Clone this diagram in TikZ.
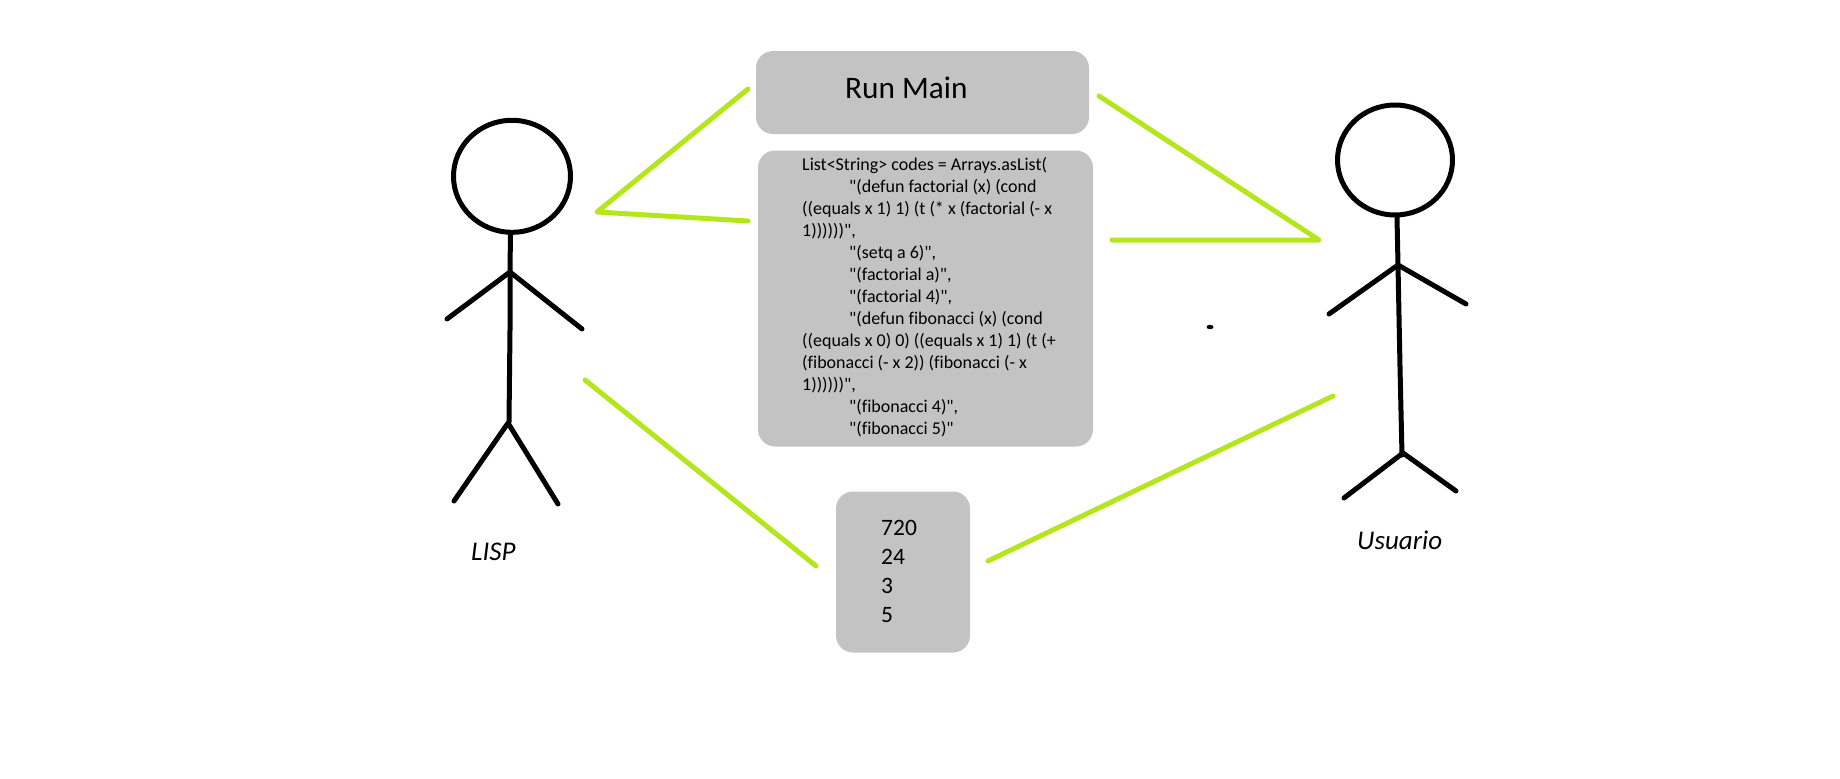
\documentclass[tikz,border=0pt]{standalone}
\usepackage{fontspec}
\setmainfont{Carlito}[Ligatures={TeXOff,CommonOff}]
\usepackage{tikz}
\definecolor{panelgray}{HTML}{C3C3C3}
\definecolor{linkgreen}{HTML}{B5E61D}
\tikzset{
	panel/.style={fill=panelgray, rounded corners=17pt, inner sep=0pt},
	label/.style={inner sep=0pt, anchor=base west},
	link/.style={color=linkgreen, line width=5pt, line cap=round, line join=round},
	figure/.style={color=black, line width=5pt, line cap=round, line join=round}
}

\begin{document}
\begin{tikzpicture}[x=1pt,y=-1pt]
	\useasboundingbox (0,0) rectangle (1840,779);
	% boxes
	\node[panel, minimum width=333pt, minimum height=83pt] (runbox) at (922.5,92.5) {};
	\node[panel, minimum width=335pt, minimum height=296pt] (codebox) at (925.5,298.5) {};
	\node[panel, minimum width=134pt, minimum height=161pt] (resultbox) at (903,572) {};
	% texts
	\node[label, font=\fontsize{31.3pt}{36pt}\selectfont] (runtext) at (845,98) {Run Main};
	\node[inner sep=0pt, anchor=north west, align=left, font=\fontsize{18pt}{22pt}\selectfont] (codetext) at (802,157.5) {List<String> codes = Arrays.asList(\\
		\hspace*{47pt}"(defun factorial (x) (cond\\
		((equals x 1) 1) (t (* x (factorial (- x\\
		1))))))",\\
		\hspace*{47pt}"(setq a 6)",\\
		\hspace*{47pt}"(factorial a)",\\
		\hspace*{47pt}"(factorial 4)",\\
		\hspace*{47pt}"(defun fibonacci (x) (cond\\
		((equals x 0) 0) ((equals x 1) 1) (t (+\\
		(fibonacci (- x 2)) (fibonacci (- x\\
		1))))))",\\
		\hspace*{47pt}"(fibonacci 4)",\\
		\hspace*{47pt}"(fibonacci 5)"};
	\node[inner sep=0pt, anchor=north west, align=left, font=\fontsize{23.5pt}{29pt}\selectfont] (resulttext) at (881,520) {720\\24\\3\\5};
	\node[label, font=\itshape\fontsize{27pt}{30pt}\selectfont] (lisplabel) at (471,560) {LISP};
	\node[label, font=\itshape\fontsize{27pt}{30pt}\selectfont] (userlabel) at (1357,549.5) {Usuario};
	% free ends of the links
	\coordinate (lispapex) at (597,212);
	\coordinate (lisprun) at (748,89);
	\coordinate (lispcode) at (748,221);
	\coordinate (lispout) at (585,380);
	\coordinate (resultl) at (816,566);
	\coordinate (userapex) at (1319,240);
	\coordinate (userrun) at (1099,96);
	\coordinate (usercode) at (1112,240);
	\coordinate (userout) at (1333,396);
	\coordinate (resultr) at (988,561);
	\draw[link] (lisprun) -- (lispapex) -- (lispcode);
	\draw[link] (lispout) -- (resultl);
	\draw[link] (userrun) -- (userapex) -- (usercode);
	\draw[link] (userout) -- (resultr);
	% LISP figure
	\draw[figure] (512,176.3) ellipse [x radius=58.5, y radius=56];
	\draw[figure] (510.3,234) -- (510,330) -- (509,422);
	\draw[figure] (447,319) -- (510,272) -- (582,329);
	\draw[figure] (454,501) -- (508,423) -- (558,504);
	% Usuario figure
	\draw[figure] (1395,160) ellipse [x radius=57.5, y radius=55];
	\draw[figure] (1397,217) -- (1398,265) -- (1400,367) -- (1402,455);
	\draw[figure] (1329,314) -- (1398,265) -- (1466,304);
	\draw[figure] (1344,498) -- (1403,453) -- (1456,491);
	% speck
	\fill (1210,327) ellipse [x radius=3.5, y radius=2.2];
\end{tikzpicture}
\end{document}
